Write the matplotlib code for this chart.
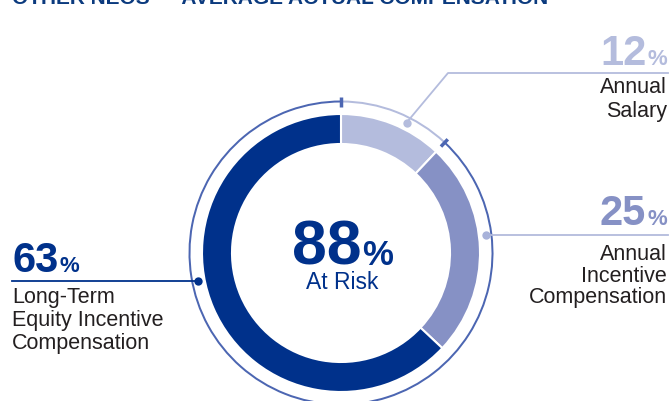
import numpy as np
import matplotlib.pyplot as plt

plt.rcParams['font.family'] = ['Liberation Sans', 'DejaVu Sans']

# data
title = "OTHER NEOS — AVERAGE ACTUAL COMPENSATION"
shares = [12, 25, 63]
share_lines = [["Annual", "Salary"],
               ["Annual", "Incentive", "Compensation"],
               ["Long-Term", "Equity Incentive", "Compensation"]]
at_risk = 88
at_risk_label = "At Risk"

navy = "#00318b"
light = "#b4bcdd"
mid = "#8691c5"
ring_blue = "#4c66b2"
grey = "#231f20"
colors = [light, mid, navy]

fig = plt.figure(figsize=(6.7, 4.02), dpi=100)
ax = fig.add_axes([0, 0, 1, 1])
ax.set_xlim(0, 670)
ax.set_ylim(402, 0)

cx, cy = 341, 254   # pixel units, y axis inverted

# main donut (startangle -90 + counterclock=True is clockwise from top once y is flipped)
ax.pie(shares, radius=139, center=(cx, cy), startangle=-90, counterclock=True,
       colors=colors, wedgeprops=dict(width=30, edgecolor="white", linewidth=1.5))

# thin outer ring: not at risk / at risk
ax.pie([100 - at_risk, at_risk], radius=152.5, center=(cx, cy), startangle=-90,
       counterclock=True, colors=[light, ring_blue],
       wedgeprops=dict(width=2, edgecolor="none"))

ax.set_xlim(0, 670)
ax.set_ylim(402, 0)
ax.set_aspect("equal")
ax.axis("off")

# tick marks at the ring boundaries
for frac in [0, (100 - at_risk) / 100]:
    th = np.deg2rad(-90 + 360 * frac)
    r0, r1 = 146, 156
    ax.plot([cx + r0 * np.cos(th), cx + r1 * np.cos(th)],
            [cy + r0 * np.sin(th), cy + r1 * np.sin(th)],
            color=ring_blue, lw=2.5, solid_capstyle="butt", zorder=5)

def ring_point(a, r=146):
    th = np.deg2rad(-90 + a)
    return cx + r * np.cos(th), cy + r * np.sin(th)

# leader lines and dots
dot_angles = [26.7, 83.0, 258.8]
line_colors = [light, "#b3bbdc", navy]
dot_colors = [light, "#a8b2da", navy]

p = ring_point(dot_angles[0])
ax.plot([p[0], 448, 668], [p[1], 74, 74], color=line_colors[0], lw=1.3)
p = ring_point(dot_angles[1])
ax.plot([p[0], 668], [p[1], p[1]], color=line_colors[1], lw=1.3)
p = ring_point(dot_angles[2])
ax.plot([p[0], 12], [p[1], p[1]], color=line_colors[2], lw=1.3)
for a, c in zip(dot_angles, dot_colors):
    x, y = ring_point(a)
    ax.plot(x, y, "o", ms=6, color=c, mec="none", zorder=6)

renderer = fig.canvas.get_renderer()
inv = ax.transData.inverted()

def number_with_pct(x, y, value, color, size, pct_size, side, gap=1):
    # number followed by a smaller "%" sign
    if side == "right":
        pct = ax.text(x, y, "%", color=color, fontsize=pct_size, fontweight="bold",
                      ha="right", va="baseline")
        bb = pct.get_window_extent(renderer)
        x0 = inv.transform((bb.x0, bb.y0))[0]
        ax.text(x0 - gap, y, str(value), color=color, fontsize=size, fontweight="bold",
                ha="right", va="baseline")
    else:
        num = ax.text(x, y, str(value), color=color, fontsize=size, fontweight="bold",
                      ha="left", va="baseline")
        bb = num.get_window_extent(renderer)
        x1 = inv.transform((bb.x1, bb.y0))[0]
        ax.text(x1 + gap, y, "%", color=color, fontsize=pct_size, fontweight="bold",
                ha="left", va="baseline")

# share numbers
num_pos = [(667, 65, "right"), (667, 225, "right"), (12, 272, "left")]
for (x, y, side), s, c in zip(num_pos, shares, colors):
    number_with_pct(x, y, s, c, 30, 16, side)

# share labels
label_base = [[93, 117], [260, 282, 303], [303, 326, 349]]
label_x = [667, 667, 12]
label_ha = ["right", "right", "left"]
for lines, ys, x, ha in zip(share_lines, label_base, label_x, label_ha):
    for line, y in zip(lines, ys):
        ax.text(x, y, line, color=grey, fontsize=15.5, ha=ha, va="baseline")

# centre
ax.text(cx + 21, 265, str(at_risk), color=navy, fontsize=45, fontweight="bold",
        ha="right", va="baseline")
ax.text(cx + 21, 265, "%", color=navy, fontsize=25, fontweight="bold",
        ha="left", va="baseline")
ax.text(cx + 1, 289, at_risk_label, color=navy, fontsize=16.5, ha="center", va="baseline")

# title, cut off at the top edge as in the source
ax.text(12, 3.5, title, color="#0b3a7e", fontsize=15, fontweight="bold",
        ha="left", va="baseline")

fig.savefig("out.png", dpi=100)
